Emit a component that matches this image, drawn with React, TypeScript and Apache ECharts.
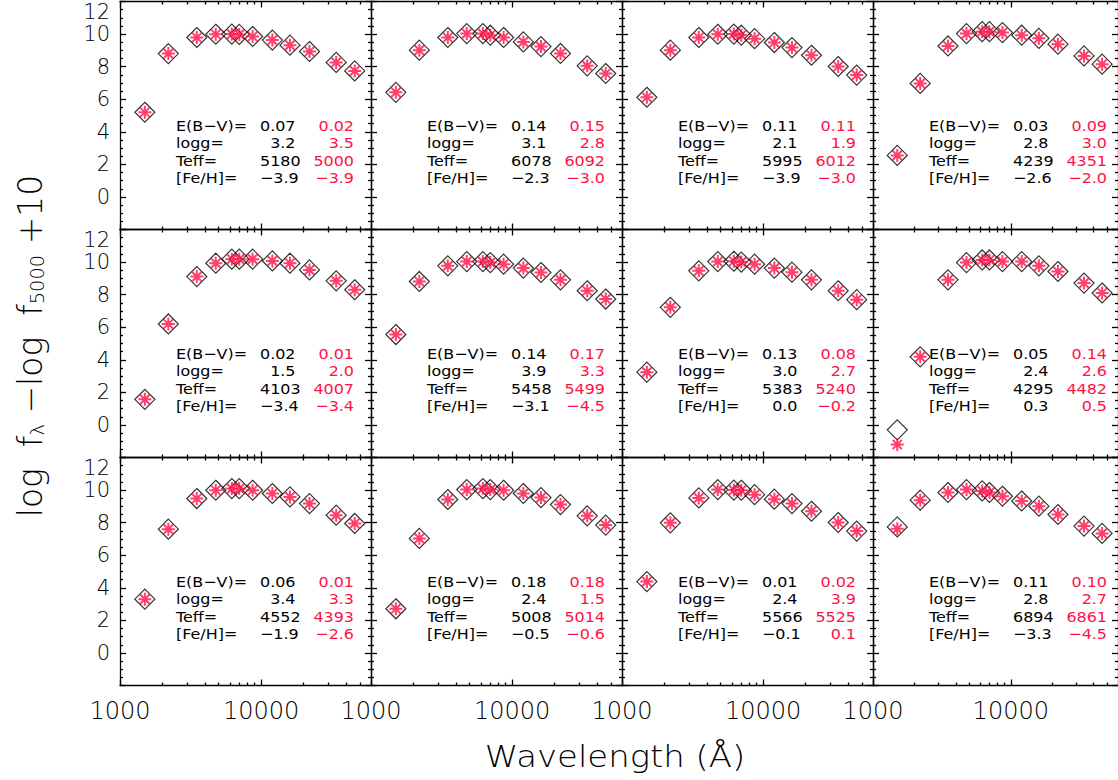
import React, { useEffect, useRef } from 'react';
import * as echarts from 'echarts';

// ---------------- data ----------------
const WAVELENGTHS = [1500, 2200, 3500, 4770, 6200, 7000, 8700, 12000, 16000, 22000, 34000, 46000];

const X_MAJOR = [1000, 10000];
const X_MINOR = [2000, 3000, 4000, 5000, 6000, 7000, 8000, 9000, 20000, 30000, 40000, 50000];

const OBS_1 = [5.2, 8.8, 9.79, 9.99, 10.0, 9.98, 9.85, 9.63, 9.32, 8.93, 8.26, 7.74];
const MOD_1 = [5.2, 8.8, 9.79, 9.99, 10.0, 9.98, 9.85, 9.63, 9.32, 8.93, 8.26, 7.74];
const OBS_2 = [6.42, 9.01, 9.79, 10.03, 10.03, 9.93, 9.79, 9.52, 9.23, 8.81, 8.05, 7.58];
const MOD_2 = [6.42, 9.01, 9.79, 10.03, 10.03, 9.93, 9.79, 9.52, 9.23, 8.81, 8.05, 7.58];
const OBS_3 = [6.12, 9.01, 9.79, 9.99, 10.0, 9.93, 9.72, 9.48, 9.17, 8.7, 8.01, 7.48];
const MOD_3 = [6.12, 9.01, 9.79, 9.99, 10.0, 9.93, 9.72, 9.48, 9.17, 8.7, 8.01, 7.48];
const OBS_4 = [2.55, 6.97, 9.27, 10.03, 10.15, 10.15, 10.09, 9.93, 9.74, 9.38, 8.66, 8.15];
const MOD_4 = [2.55, 6.97, 9.27, 10.03, 10.15, 10.15, 10.09, 9.93, 9.74, 9.38, 8.66, 8.15];
const OBS_5 = [1.57, 6.2, 9.11, 9.93, 10.18, 10.18, 10.18, 10.07, 9.93, 9.52, 8.85, 8.3];
const MOD_5 = [1.57, 6.2, 9.11, 9.93, 10.18, 10.18, 10.18, 10.07, 9.93, 9.52, 8.85, 8.3];
const OBS_6 = [5.55, 8.81, 9.77, 10.03, 10.03, 9.97, 9.87, 9.63, 9.36, 8.91, 8.24, 7.73];
const MOD_6 = [5.55, 8.81, 9.77, 10.03, 10.03, 9.97, 9.87, 9.63, 9.36, 8.91, 8.24, 7.73];
const OBS_7 = [3.24, 7.22, 9.46, 10.03, 10.05, 10.0, 9.87, 9.63, 9.38, 8.91, 8.24, 7.69];
const MOD_7 = [3.24, 7.22, 9.46, 10.03, 10.05, 10.0, 9.87, 9.63, 9.38, 8.91, 8.24, 7.69];
const OBS_8 = [-0.3, 4.18, 8.91, 9.97, 10.13, 10.13, 10.03, 10.03, 9.77, 9.42, 8.71, 8.1];
const MOD_8 = [-1.2, 4.18, 8.91, 9.97, 10.13, 10.13, 10.03, 10.03, 9.77, 9.42, 8.71, 8.1];
const OBS_9 = [3.3, 7.6, 9.48, 9.99, 10.09, 10.09, 9.99, 9.79, 9.58, 9.17, 8.46, 7.95];
const MOD_9 = [3.3, 7.6, 9.48, 9.99, 10.09, 10.09, 9.99, 9.79, 9.58, 9.17, 8.46, 7.95];
const OBS_10 = [2.71, 7.03, 9.42, 10.03, 10.09, 10.03, 9.99, 9.79, 9.54, 9.11, 8.42, 7.85];
const MOD_10 = [2.71, 7.03, 9.42, 10.03, 10.09, 10.03, 9.99, 9.79, 9.54, 9.11, 8.42, 7.85];
const OBS_11 = [4.38, 7.99, 9.52, 10.03, 10.0, 9.99, 9.72, 9.44, 9.17, 8.7, 8.01, 7.48];
const MOD_11 = [4.38, 7.99, 9.52, 10.03, 10.0, 9.99, 9.72, 9.44, 9.17, 8.7, 8.01, 7.48];
const OBS_12 = [7.74, 9.38, 9.85, 10.03, 9.95, 9.85, 9.62, 9.33, 9.01, 8.5, 7.79, 7.34];
const MOD_12 = [7.62, 9.38, 9.85, 10.03, 9.95, 9.85, 9.62, 9.33, 9.01, 8.5, 7.79, 7.34];

const OBSERVED = [OBS_1, OBS_2, OBS_3, OBS_4, OBS_5, OBS_6, OBS_7, OBS_8, OBS_9, OBS_10, OBS_11, OBS_12];
const MODEL = [MOD_1, MOD_2, MOD_3, MOD_4, MOD_5, MOD_6, MOD_7, MOD_8, MOD_9, MOD_10, MOD_11, MOD_12];

const EBV_BLACK = ['0.07', '0.14', '0.11', '0.03', '0.02', '0.14', '0.13', '0.05', '0.06', '0.18', '0.01', '0.11'];
const EBV_RED = ['0.02', '0.15', '0.11', '0.09', '0.01', '0.17', '0.08', '0.14', '0.01', '0.18', '0.02', '0.10'];
const LOGG_BLACK = ['3.2', '3.1', '2.1', '2.8', '1.5', '3.9', '3.0', '2.4', '3.4', '2.4', '2.4', '2.8'];
const LOGG_RED = ['3.5', '2.8', '1.9', '3.0', '2.0', '3.3', '2.7', '2.6', '3.3', '1.5', '3.9', '2.7'];
const TEFF_BLACK = ['5180', '6078', '5995', '4239', '4103', '5458', '5383', '4295', '4552', '5008', '5566', '6894'];
const TEFF_RED = ['5000', '6092', '6012', '4351', '4007', '5499', '5240', '4482', '4393', '5014', '5525', '6861'];
const FEH_BLACK = ['−3.9', '−2.3', '−3.9', '−2.6', '−3.4', '−3.1', '0.0', '0.3', '−1.9', '−0.5', '−0.1', '−3.3'];
const FEH_RED = ['−3.9', '−3.0', '−3.0', '−2.0', '−3.4', '−4.5', '−0.2', '0.5', '−2.6', '−0.6', '0.1', '−4.5'];

const ROW_LABELS = ['E(B−V)=', 'logg=', 'Teff=', '[Fe/H]='];

// ---------------- layout / style ----------------
const COL_LEFT = [120, 371, 622, 873];
const ROW_TOP = [1.5, 229.5, 457.5];
const PW = 251;
const PH = 228;
const RED = '#FF1046';
const INK = '#000';
const FONT = 'DejaVu Sans';
const ASTERISK = 'path://M0,-1L0,1M-1,0L1,0M-0.71,-0.71L0.71,0.71M-0.71,0.71L0.71,-0.71';
const FIG_SPACE = '\u2007';

const pad = (s: string) => (s.length < 4 ? FIG_SPACE + s : s);

function buildOption() {
  const grid: any[] = [];
  const xAxis: any[] = [];
  const yAxis: any[] = [];
  const series: any[] = [];
  const graphic: any[] = [];
  const lineStyle = { color: '#000', width: 1.3 };

  for (let i = 0; i < 12; i++) {
    const r = Math.floor(i / 4);
    const c = i % 4;
    const left = COL_LEFT[c];
    const top = ROW_TOP[r];
    grid.push({ left, top, width: PW, height: PH, containLabel: false, show: false });

    const xBase = {
      type: 'log',
      logBase: 10,
      min: 1000,
      max: 60000,
      gridIndex: i,
      splitLine: { show: false },
      minorSplitLine: { show: false },
    };
    for (const pos of ['bottom', 'top']) {
      xAxis.push({
        ...xBase,
        position: pos,
        axisLine: { show: true, onZero: false, lineStyle },
        axisTick: { show: true, inside: true, length: 6, customValues: X_MAJOR, lineStyle },
        axisLabel: {
          show: pos === 'bottom' && r === 2,
          customValues: X_MAJOR,
          formatter: (v: number) => String(Math.round(v)),
          fontSize: 24,
          fontFamily: FONT,
          fontWeight: 200,
          color: INK,
          margin: 13,
        },
      });
      xAxis.push({
        ...xBase,
        position: pos,
        axisLine: { show: false, onZero: false },
        axisTick: { show: true, inside: true, length: 3, customValues: X_MINOR, lineStyle },
        axisLabel: { show: false },
      });
    }
    for (const pos of ['left', 'right']) {
      yAxis.push({
        type: 'value',
        gridIndex: i,
        position: pos,
        min: -2,
        max: 12,
        interval: 2,
        splitLine: { show: false },
        axisLine: { show: true, onZero: false, lineStyle },
        axisTick: { show: true, inside: true, length: 6, lineStyle },
        minorTick: { show: true, splitNumber: 4, length: 3, lineStyle },
        axisLabel: {
          show: pos === 'left' && c === 0,
          fontSize: 21,
          fontFamily: FONT,
          fontWeight: 200,
          color: INK,
          margin: 10,
          formatter: (v: number) => (v === -2 ? '' : v === 12 ? '{t|12}' : String(v)),
          rich: { t: { fontSize: 21, fontFamily: FONT, fontWeight: 200, color: INK, padding: [20, 0, 0, 0] } },
        },
      });
    }

    series.push({
      type: 'scatter',
      xAxisIndex: i * 4,
      yAxisIndex: i * 2,
      data: WAVELENGTHS.map((w, k) => [w, OBSERVED[i][k]]),
      symbol: 'diamond',
      symbolSize: 20,
      itemStyle: { color: 'none', borderColor: '#000', borderWidth: 1.2 },
      silent: true,
      z: 2,
    });
    series.push({
      type: 'scatter',
      xAxisIndex: i * 4,
      yAxisIndex: i * 2,
      data: WAVELENGTHS.map((w, k) => [w, MODEL[i][k]]),
      symbol: ASTERISK,
      symbolSize: 13,
      itemStyle: { color: RED, borderColor: RED, borderWidth: 2 },
      silent: true,
      z: 3,
    });

    const txt = {
      fontSize: 14.5, fontFamily: FONT, fontWeight: 'normal', lineHeight: 17.5, verticalAlign: 'middle',
    };
    const cy = top + 150.75;
    graphic.push({
      type: 'text', x: left + 56, y: cy, scaleX: 1.1, silent: true,
      style: { ...txt, text: ROW_LABELS.join('\n'), fill: INK, align: 'left' },
    });
    graphic.push({
      type: 'text', x: left + 140, y: cy, scaleX: 1.1, silent: true,
      style: {
        ...txt,
        text: [EBV_BLACK[i], LOGG_BLACK[i], TEFF_BLACK[i], FEH_BLACK[i]].map(pad).join('\n'),
        fill: INK, align: 'left',
      },
    });
    graphic.push({
      type: 'text', x: left + 234, y: cy, scaleX: 1.1, silent: true,
      style: {
        ...txt,
        text: [EBV_RED[i], LOGG_RED[i], TEFF_RED[i], FEH_RED[i]].join('\n'),
        fill: RED, align: 'right',
      },
    });
  }

  graphic.push({
    type: 'text', x: 615, y: 757, scaleX: 1.13, silent: true,
    style: {
      text: 'Wavelength (Å)', fontSize: 30, fontFamily: FONT, fontWeight: 200,
      fill: INK, align: 'center', verticalAlign: 'middle',
    },
  });
  graphic.push({
    type: 'text', x: 30, y: 346, rotation: Math.PI / 2, scaleX: 0.97, silent: true,
    style: {
      text: 'log  f{s|λ} −log  f{s|5000} +10', fontSize: 34, fontFamily: FONT, fontWeight: 200,
      fill: INK, align: 'center', verticalAlign: 'middle',
      rich: { s: { fontSize: 20, fontFamily: FONT, fontWeight: 200, fill: INK, verticalAlign: 'bottom' } },
    },
  });

  return { animation: false, backgroundColor: '#fff', grid, xAxis, yAxis, series, graphic };
}

export default function App() {
  const ref = useRef<HTMLDivElement>(null);
  useEffect(() => {
    if (!ref.current) return;
    const chart = echarts.init(ref.current, undefined, { renderer: 'svg' });
    chart.setOption(buildOption() as any);
    return () => chart.dispose();
  }, []);
  return <div ref={ref} style={{ position: 'fixed', left: 0, top: 0, width: 1118, height: 780 }} />;
}
